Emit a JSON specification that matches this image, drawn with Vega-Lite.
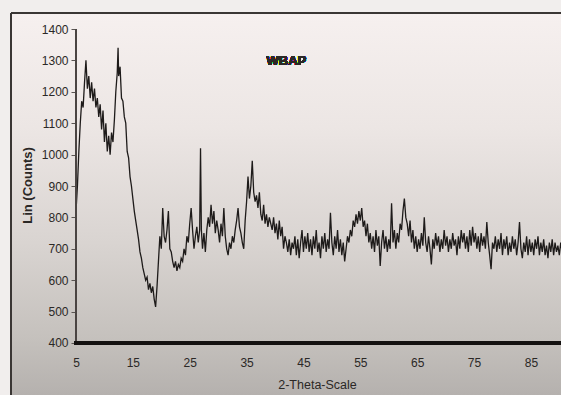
{
  "$schema": "https://vega.github.io/schema/vega-lite/v6.json",
  "width": 550,
  "height": 382,
  "autosize": {"type": "none"},
  "padding": {"left": 11, "top": 13, "right": 0, "bottom": 0},
  "background": "#f1eeed",
  "config": {
    "view": {
      "stroke": null,
      "fill": {
        "gradient": "linear", "x1": 0, "y1": 0, "x2": 0, "y2": 1,
        "stops": [
          {"offset": 0, "color": "#f6f0ef"},
          {"offset": 0.3, "color": "#ece6e4"},
          {"offset": 0.6, "color": "#d9d4d1"},
          {"offset": 0.85, "color": "#c5c1bd"},
          {"offset": 1, "color": "#b5b1ae"}
        ]
      }
    },
    "axis": {"labelFont": "Liberation Sans", "titleFont": "Liberation Sans", "grid": false}
  },
  "data": {
    "values": [
      {"theta": 5.0, "counts": 820}, {"theta": 5.25, "counts": 900}, {"theta": 5.5, "counts": 1010}, {"theta": 5.75, "counts": 1100},
      {"theta": 6.0, "counts": 1170}, {"theta": 6.25, "counts": 1150}, {"theta": 6.5, "counts": 1230}, {"theta": 6.75, "counts": 1300},
      {"theta": 7.0, "counts": 1210}, {"theta": 7.25, "counts": 1250}, {"theta": 7.5, "counts": 1180}, {"theta": 7.75, "counts": 1230},
      {"theta": 8.0, "counts": 1170}, {"theta": 8.25, "counts": 1210}, {"theta": 8.5, "counts": 1150}, {"theta": 8.75, "counts": 1180},
      {"theta": 9.0, "counts": 1120}, {"theta": 9.25, "counts": 1160}, {"theta": 9.5, "counts": 1080}, {"theta": 9.75, "counts": 1140},
      {"theta": 10.0, "counts": 1040}, {"theta": 10.25, "counts": 1100}, {"theta": 10.5, "counts": 1010}, {"theta": 10.75, "counts": 1060},
      {"theta": 11.0, "counts": 1000}, {"theta": 11.25, "counts": 1070}, {"theta": 11.5, "counts": 1040}, {"theta": 11.75, "counts": 1110},
      {"theta": 12.0, "counts": 1200}, {"theta": 12.25, "counts": 1260}, {"theta": 12.4, "counts": 1340}, {"theta": 12.5, "counts": 1250},
      {"theta": 12.75, "counts": 1280}, {"theta": 13.0, "counts": 1180}, {"theta": 13.25, "counts": 1170}, {"theta": 13.5, "counts": 1120},
      {"theta": 13.75, "counts": 1100}, {"theta": 14.0, "counts": 1010}, {"theta": 14.25, "counts": 990}, {"theta": 14.5, "counts": 930},
      {"theta": 14.75, "counts": 900}, {"theta": 15.0, "counts": 860}, {"theta": 15.25, "counts": 820}, {"theta": 15.5, "counts": 790},
      {"theta": 15.75, "counts": 760}, {"theta": 16.0, "counts": 730}, {"theta": 16.25, "counts": 690}, {"theta": 16.5, "counts": 670},
      {"theta": 16.75, "counts": 640}, {"theta": 17.0, "counts": 620}, {"theta": 17.25, "counts": 600}, {"theta": 17.5, "counts": 610},
      {"theta": 17.75, "counts": 570}, {"theta": 18.0, "counts": 590}, {"theta": 18.25, "counts": 560}, {"theta": 18.5, "counts": 580},
      {"theta": 18.75, "counts": 540}, {"theta": 19.0, "counts": 515}, {"theta": 19.25, "counts": 580}, {"theta": 19.5, "counts": 660},
      {"theta": 19.75, "counts": 740}, {"theta": 20.0, "counts": 700}, {"theta": 20.25, "counts": 830}, {"theta": 20.5, "counts": 740},
      {"theta": 20.75, "counts": 720}, {"theta": 21.0, "counts": 760}, {"theta": 21.25, "counts": 820}, {"theta": 21.5, "counts": 700},
      {"theta": 21.75, "counts": 690}, {"theta": 22.0, "counts": 660}, {"theta": 22.25, "counts": 640}, {"theta": 22.5, "counts": 660},
      {"theta": 22.75, "counts": 630}, {"theta": 23.0, "counts": 650}, {"theta": 23.25, "counts": 640}, {"theta": 23.5, "counts": 670},
      {"theta": 23.75, "counts": 660}, {"theta": 24.0, "counts": 700}, {"theta": 24.25, "counts": 680}, {"theta": 24.5, "counts": 740},
      {"theta": 24.75, "counts": 720}, {"theta": 25.0, "counts": 780}, {"theta": 25.25, "counts": 830}, {"theta": 25.5, "counts": 760},
      {"theta": 25.75, "counts": 700}, {"theta": 26.0, "counts": 740}, {"theta": 26.25, "counts": 770}, {"theta": 26.5, "counts": 720},
      {"theta": 26.75, "counts": 760}, {"theta": 26.9, "counts": 1020}, {"theta": 27.05, "counts": 760}, {"theta": 27.25, "counts": 700},
      {"theta": 27.5, "counts": 750}, {"theta": 27.75, "counts": 690}, {"theta": 28.0, "counts": 760}, {"theta": 28.25, "counts": 800},
      {"theta": 28.5, "counts": 770}, {"theta": 28.75, "counts": 840}, {"theta": 29.0, "counts": 780}, {"theta": 29.25, "counts": 820},
      {"theta": 29.5, "counts": 750}, {"theta": 29.75, "counts": 790}, {"theta": 30.0, "counts": 760}, {"theta": 30.25, "counts": 720},
      {"theta": 30.5, "counts": 780}, {"theta": 30.75, "counts": 740}, {"theta": 31.0, "counts": 830}, {"theta": 31.25, "counts": 740},
      {"theta": 31.5, "counts": 700}, {"theta": 31.75, "counts": 680}, {"theta": 32.0, "counts": 720}, {"theta": 32.25, "counts": 700},
      {"theta": 32.5, "counts": 740}, {"theta": 32.75, "counts": 720}, {"theta": 33.0, "counts": 760}, {"theta": 33.25, "counts": 790},
      {"theta": 33.5, "counts": 830}, {"theta": 33.75, "counts": 770}, {"theta": 34.0, "counts": 750}, {"theta": 34.25, "counts": 720},
      {"theta": 34.5, "counts": 700}, {"theta": 34.75, "counts": 790}, {"theta": 35.0, "counts": 850}, {"theta": 35.25, "counts": 930},
      {"theta": 35.5, "counts": 860}, {"theta": 35.75, "counts": 900}, {"theta": 36.0, "counts": 980}, {"theta": 36.25, "counts": 880},
      {"theta": 36.5, "counts": 850}, {"theta": 36.75, "counts": 870}, {"theta": 37.0, "counts": 830}, {"theta": 37.25, "counts": 880},
      {"theta": 37.5, "counts": 810}, {"theta": 37.75, "counts": 790}, {"theta": 38.0, "counts": 840}, {"theta": 38.25, "counts": 780},
      {"theta": 38.5, "counts": 810}, {"theta": 38.75, "counts": 770}, {"theta": 39.0, "counts": 800}, {"theta": 39.25, "counts": 780},
      {"theta": 39.5, "counts": 760}, {"theta": 39.75, "counts": 800}, {"theta": 40.0, "counts": 750}, {"theta": 40.25, "counts": 780},
      {"theta": 40.5, "counts": 730}, {"theta": 40.75, "counts": 790}, {"theta": 41.0, "counts": 740}, {"theta": 41.25, "counts": 770},
      {"theta": 41.5, "counts": 700}, {"theta": 41.75, "counts": 740}, {"theta": 42.0, "counts": 720}, {"theta": 42.25, "counts": 690},
      {"theta": 42.5, "counts": 730}, {"theta": 42.75, "counts": 680}, {"theta": 43.0, "counts": 720}, {"theta": 43.25, "counts": 700},
      {"theta": 43.5, "counts": 740}, {"theta": 43.75, "counts": 680}, {"theta": 44.0, "counts": 730}, {"theta": 44.25, "counts": 670},
      {"theta": 44.5, "counts": 720}, {"theta": 44.75, "counts": 760}, {"theta": 45.0, "counts": 690}, {"theta": 45.25, "counts": 740},
      {"theta": 45.5, "counts": 700}, {"theta": 45.75, "counts": 750}, {"theta": 46.0, "counts": 690}, {"theta": 46.25, "counts": 730},
      {"theta": 46.5, "counts": 680}, {"theta": 46.75, "counts": 740}, {"theta": 47.0, "counts": 700}, {"theta": 47.25, "counts": 760},
      {"theta": 47.5, "counts": 690}, {"theta": 47.75, "counts": 720}, {"theta": 48.0, "counts": 670}, {"theta": 48.25, "counts": 740},
      {"theta": 48.5, "counts": 700}, {"theta": 48.75, "counts": 750}, {"theta": 49.0, "counts": 690}, {"theta": 49.25, "counts": 730},
      {"theta": 49.5, "counts": 700}, {"theta": 49.75, "counts": 815}, {"theta": 50.0, "counts": 720}, {"theta": 50.25, "counts": 680},
      {"theta": 50.5, "counts": 740}, {"theta": 50.75, "counts": 700}, {"theta": 51.0, "counts": 760}, {"theta": 51.25, "counts": 690},
      {"theta": 51.5, "counts": 730}, {"theta": 51.75, "counts": 680}, {"theta": 52.0, "counts": 720}, {"theta": 52.25, "counts": 660},
      {"theta": 52.5, "counts": 700}, {"theta": 52.75, "counts": 740}, {"theta": 53.0, "counts": 720}, {"theta": 53.25, "counts": 760},
      {"theta": 53.5, "counts": 740}, {"theta": 53.75, "counts": 790}, {"theta": 54.0, "counts": 770}, {"theta": 54.25, "counts": 810},
      {"theta": 54.5, "counts": 780}, {"theta": 54.75, "counts": 820}, {"theta": 55.0, "counts": 790}, {"theta": 55.25, "counts": 830},
      {"theta": 55.5, "counts": 770}, {"theta": 55.75, "counts": 790}, {"theta": 56.0, "counts": 740}, {"theta": 56.25, "counts": 780},
      {"theta": 56.5, "counts": 720}, {"theta": 56.75, "counts": 750}, {"theta": 57.0, "counts": 700}, {"theta": 57.25, "counts": 740},
      {"theta": 57.5, "counts": 690}, {"theta": 57.75, "counts": 760}, {"theta": 58.0, "counts": 710}, {"theta": 58.25, "counts": 740},
      {"theta": 58.5, "counts": 645}, {"theta": 58.75, "counts": 720}, {"theta": 59.0, "counts": 760}, {"theta": 59.25, "counts": 700},
      {"theta": 59.5, "counts": 740}, {"theta": 59.75, "counts": 690}, {"theta": 60.0, "counts": 730}, {"theta": 60.25, "counts": 700},
      {"theta": 60.5, "counts": 845}, {"theta": 60.75, "counts": 720}, {"theta": 61.0, "counts": 760}, {"theta": 61.25, "counts": 700},
      {"theta": 61.5, "counts": 750}, {"theta": 61.75, "counts": 720}, {"theta": 62.0, "counts": 780}, {"theta": 62.25, "counts": 760},
      {"theta": 62.5, "counts": 820}, {"theta": 62.75, "counts": 860}, {"theta": 63.0, "counts": 800}, {"theta": 63.25, "counts": 780},
      {"theta": 63.5, "counts": 740}, {"theta": 63.75, "counts": 790}, {"theta": 64.0, "counts": 720}, {"theta": 64.25, "counts": 760},
      {"theta": 64.5, "counts": 700}, {"theta": 64.75, "counts": 740}, {"theta": 65.0, "counts": 690}, {"theta": 65.25, "counts": 730},
      {"theta": 65.5, "counts": 700}, {"theta": 65.75, "counts": 750}, {"theta": 66.0, "counts": 710}, {"theta": 66.25, "counts": 800},
      {"theta": 66.5, "counts": 720}, {"theta": 66.75, "counts": 690}, {"theta": 67.0, "counts": 740}, {"theta": 67.25, "counts": 700},
      {"theta": 67.5, "counts": 650}, {"theta": 67.75, "counts": 730}, {"theta": 68.0, "counts": 700}, {"theta": 68.25, "counts": 750},
      {"theta": 68.5, "counts": 710}, {"theta": 68.75, "counts": 740}, {"theta": 69.0, "counts": 690}, {"theta": 69.25, "counts": 730},
      {"theta": 69.5, "counts": 700}, {"theta": 69.75, "counts": 760}, {"theta": 70.0, "counts": 710}, {"theta": 70.25, "counts": 740},
      {"theta": 70.5, "counts": 690}, {"theta": 70.75, "counts": 730}, {"theta": 71.0, "counts": 700}, {"theta": 71.25, "counts": 750},
      {"theta": 71.5, "counts": 710}, {"theta": 71.75, "counts": 730}, {"theta": 72.0, "counts": 680}, {"theta": 72.25, "counts": 740},
      {"theta": 72.5, "counts": 700}, {"theta": 72.75, "counts": 760}, {"theta": 73.0, "counts": 720}, {"theta": 73.25, "counts": 750},
      {"theta": 73.5, "counts": 700}, {"theta": 73.75, "counts": 740}, {"theta": 74.0, "counts": 690}, {"theta": 74.25, "counts": 760},
      {"theta": 74.5, "counts": 710}, {"theta": 74.75, "counts": 770}, {"theta": 75.0, "counts": 720}, {"theta": 75.25, "counts": 750},
      {"theta": 75.5, "counts": 700}, {"theta": 75.75, "counts": 740}, {"theta": 76.0, "counts": 690}, {"theta": 76.25, "counts": 750},
      {"theta": 76.5, "counts": 710}, {"theta": 76.75, "counts": 740}, {"theta": 77.0, "counts": 700}, {"theta": 77.25, "counts": 785},
      {"theta": 77.5, "counts": 720}, {"theta": 77.75, "counts": 680}, {"theta": 78.0, "counts": 635}, {"theta": 78.25, "counts": 720},
      {"theta": 78.5, "counts": 700}, {"theta": 78.75, "counts": 740}, {"theta": 79.0, "counts": 690}, {"theta": 79.25, "counts": 730},
      {"theta": 79.5, "counts": 700}, {"theta": 79.75, "counts": 750}, {"theta": 80.0, "counts": 680}, {"theta": 80.25, "counts": 730},
      {"theta": 80.5, "counts": 700}, {"theta": 80.75, "counts": 740}, {"theta": 81.0, "counts": 680}, {"theta": 81.25, "counts": 720},
      {"theta": 81.5, "counts": 690}, {"theta": 81.75, "counts": 740}, {"theta": 82.0, "counts": 700}, {"theta": 82.25, "counts": 730},
      {"theta": 82.5, "counts": 680}, {"theta": 82.75, "counts": 720}, {"theta": 83.0, "counts": 785}, {"theta": 83.25, "counts": 700},
      {"theta": 83.5, "counts": 670}, {"theta": 83.75, "counts": 720}, {"theta": 84.0, "counts": 690}, {"theta": 84.25, "counts": 740},
      {"theta": 84.5, "counts": 680}, {"theta": 84.75, "counts": 730}, {"theta": 85.0, "counts": 690}, {"theta": 85.25, "counts": 720},
      {"theta": 85.5, "counts": 680}, {"theta": 85.75, "counts": 730}, {"theta": 86.0, "counts": 700}, {"theta": 86.25, "counts": 740},
      {"theta": 86.5, "counts": 680}, {"theta": 86.75, "counts": 720}, {"theta": 87.0, "counts": 690}, {"theta": 87.25, "counts": 730},
      {"theta": 87.5, "counts": 680}, {"theta": 87.75, "counts": 710}, {"theta": 88.0, "counts": 670}, {"theta": 88.25, "counts": 720},
      {"theta": 88.5, "counts": 690}, {"theta": 88.75, "counts": 730}, {"theta": 89.0, "counts": 680}, {"theta": 89.25, "counts": 720},
      {"theta": 89.5, "counts": 690}, {"theta": 89.75, "counts": 710}, {"theta": 90.0, "counts": 680}, {"theta": 90.25, "counts": 720},
      {"theta": 90.5, "counts": 690}
    ]
  },
  "layer": [
    {
      "mark": {"type": "line", "color": "#1e1b1a", "strokeWidth": 1.3, "clip": true},
      "encoding": {
        "x": {
          "field": "theta", "type": "quantitative",
          "scale": {"domain": [-6.432, 90.297], "nice": false, "zero": false},
          "axis": {
            "orient": "bottom", "offset": -52, "values": [5, 15, 25, 35, 45, 55, 65, 75, 85], "tickCount": 20,
            "domain": false, "ticks": false, "tickSize": 0, "labelPadding": 14,
            "labelFontSize": 12, "labelColor": "#2b2826", "labelOverlap": false, "format": "d",
            "title": "2-Theta-Scale", "titleFontSize": 12.5, "titleFontWeight": "normal",
            "titleColor": "#2b2826", "titleX": 306, "titleY": 41, "titleBaseline": "middle"
          }
        },
        "y": {
          "field": "counts", "type": "quantitative",
          "scale": {"domain": [234.39, 1450.96], "nice": false, "zero": false},
          "axis": {
            "orient": "left", "offset": -65, "values": [400, 500, 600, 700, 800, 900, 1000, 1100, 1200, 1300, 1400], "tickCount": 20,
            "domain": false, "ticks": true, "tickSize": 5, "tickColor": "#5a5552", "labelPadding": 3,
            "labelFontSize": 12, "labelColor": "#2b2826", "labelOverlap": false, "format": "d",
            "title": "Lin (Counts)", "titleFontSize": 13, "titleFontWeight": "bold",
            "titleColor": "#2b2826", "titleX": -49, "titleY": 172, "titleBaseline": "middle", "titleAngle": -90
          }
        }
      }
    },
    {
      "description": "outer frame: top and left edges of the framed panel",
      "mark": {"type": "rule", "color": "#3b3734", "strokeWidth": 1.5},
      "encoding": {"x": {"datum": -6.432}, "x2": {"datum": 90.297}, "y": {"datum": 1450.96}}
    },
    {
      "mark": {"type": "rule", "color": "#3b3734", "strokeWidth": 1.5},
      "encoding": {"x": {"datum": -6.432}, "y": {"datum": 234.39}, "y2": {"datum": 1450.96}}
    },
    {
      "mark": {"type": "rule", "color": "#4a4542", "strokeWidth": 1},
      "encoding": {"x": {"datum": 5}, "y": {"datum": 400}, "y2": {"datum": 1400}}
    },
    {
      "mark": {"type": "rule", "color": "#141110", "strokeWidth": 4},
      "encoding": {"x": {"datum": 4.7}, "x2": {"datum": 90.297}, "y": {"datum": 400}}
    },
    {
      "mark": {"type": "text", "font": "Liberation Sans", "fontSize": 13, "fontWeight": "bold", "fill": "#2b2826", "align": "center", "baseline": "middle"},
      "encoding": {"x": {"datum": 42.0}, "y": {"datum": 1298}, "text": {"value": "WBAP"}}
    }
  ]
}
